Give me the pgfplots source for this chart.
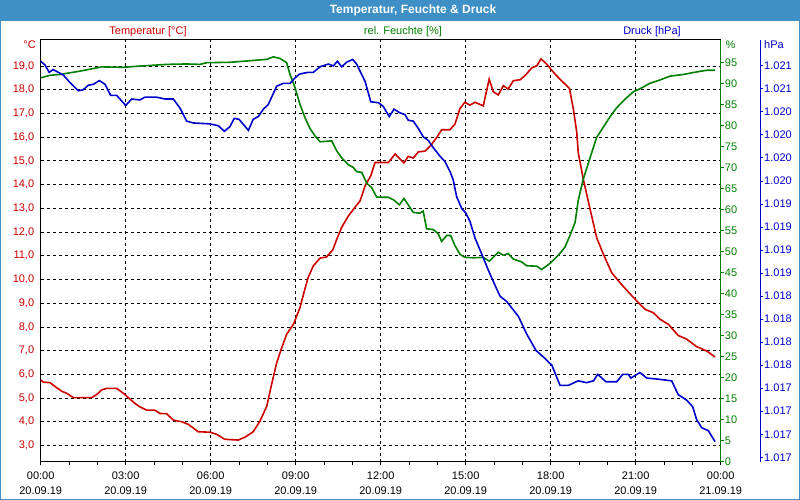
\documentclass[border=0pt]{standalone}
\usepackage{pgfplots}
\pgfplotsset{compat=1.18}
\usepackage{fontspec}
\setmainfont{Liberation Sans}
\definecolor{tblue}{RGB}{61,143,198}
\definecolor{cred}{RGB}{204,0,0}
\definecolor{cgreen}{RGB}{0,128,0}
\definecolor{cblue}{RGB}{0,0,204}
\pgfplotsset{
  base/.style={at={(40.7pt,38.3pt)}, anchor=south west, scale only axis,
    height=421.7pt, xmin=0, clip=true,
    /pgf/number format/assume math mode=true,
    every tick label/.append style={font=\fontsize{11}{14.5}\selectfont}},
}
\begin{document}
\begin{tikzpicture}[x=1pt,y=1pt,font=\fontsize{11}{13}\selectfont]
\fill[white] (0,0) rectangle (800,500);
\fill[tblue] (0,479) rectangle (800,500);
\draw[tblue,line width=1pt] (0.5,0.5) rectangle (799.5,499.5);
\node[white,font=\fontsize{12}{14}\selectfont\bfseries] at (413,490) {Temperatur, Feuchte \& Druck};
\node[cred] at (148,468) {Temperatur [°C]};
\node[cgreen] at (403,468) {rel. Feuchte [\%]};
\node[cblue] at (652,468) {Druck [hPa]};
\node[cred,anchor=east,inner sep=0pt] at (36,455) {°C};
\node[cgreen,anchor=west,inner sep=0pt] at (725.5,455) {\%};
\node[cblue,anchor=west,inner sep=0pt] at (764,455) {hPa};

% Temperature
\begin{axis}[base, width=680pt, xmax=24, ymin=2.317, ymax=20.096,
  xtick={0,3,...,24},
  xticklabels={{00:00\\20.09.19},{03:00\\20.09.19},{06:00\\20.09.19},{09:00\\20.09.19},{12:00\\20.09.19},{15:00\\20.09.19},{18:00\\20.09.19},{21:00\\20.09.19},{00:00\\21.09.19}},
  xticklabel style={align=center, text=black, yshift=-4pt},
  minor x tick num=2,
  xtick pos=left, ytick pos=left,
  tick align=outside, major tick length=3pt, minor tick length=3pt,
  ytick={3,...,19}, ytick style={draw=none},
  yticklabel style={text=cred, /pgf/number format/.cd, fixed, fixed zerofill, precision=1, use comma},
  grid=major, major grid style={black, line width=0.8pt, dash pattern=on 3pt off 3pt},
  axis line style={black, line width=1pt},
  tick style={black, line width=0.8pt},
]
\addplot[cred, line width=1.6pt] coordinates {
(0,5.76)(0.09,5.67)(0.33,5.65)(0.56,5.44)(0.74,5.29)(0.92,5.20)(1.15,5.02)(1.80,5.02)(1.98,5.15)(2.15,5.34)
(2.33,5.41)(2.68,5.41)(2.92,5.20)(3.09,5.02)(3.33,4.77)(3.50,4.63)(3.74,4.49)(4.03,4.49)(4.21,4.35)(4.45,4.34)
(4.68,4.07)(4.98,4.00)(5.21,3.89)(5.56,3.58)(5.98,3.56)(6.21,3.47)(6.50,3.26)(6.97,3.23)(7.21,3.35)(7.50,3.58)
(7.74,4.03)(7.98,4.66)(8.15,5.58)(8.33,6.49)(8.51,7.13)(8.68,7.69)(8.92,8.11)(9.15,8.81)(9.33,9.62)(9.44,10.08)
(9.62,10.57)(9.86,10.90)(10.09,10.95)(10.31,11.25)(10.45,11.70)(10.62,12.19)(10.86,12.68)(11.09,13.04)(11.27,13.31)(11.45,13.95)
(11.65,14.37)(11.80,14.93)(12.27,14.93)(12.51,15.29)(12.82,14.91)(12.97,15.19)(13.15,15.12)(13.33,15.38)(13.56,15.41)(13.74,15.61)
(13.98,15.99)(14.15,16.31)(14.44,16.31)(14.62,16.55)(14.80,17.21)(14.97,17.47)(15.15,17.35)(15.33,17.47)(15.62,17.32)(15.83,18.45)
(15.97,17.92)(16.15,17.78)(16.33,18.17)(16.50,18.03)(16.68,18.38)(16.92,18.42)(17.09,18.59)(17.33,18.92)(17.51,19.01)(17.66,19.30)
(17.86,19.08)(18.15,18.66)(18.44,18.31)(18.66,18.06)(18.80,17.18)(18.92,16.20)(18.97,15.36)(19.15,14.23)(19.39,12.96)(19.62,11.77)
(19.86,11.06)(20.15,10.29)(20.44,9.87)(20.74,9.47)(21.04,9.09)(21.33,8.74)(21.62,8.60)(21.86,8.32)(22.15,8.11)(22.50,7.64)
(22.80,7.48)(23.15,7.17)(23.51,6.98)(23.80,6.73)
};
\end{axis}

% Humidity
\begin{axis}[base, width=680pt, xmax=24, ymin=0, ymax=100.3,
  axis x line=none, axis y line*=right,
  y axis line style={cgreen, line width=1pt},
  ytick={0,5,...,95},
  tick align=outside, major tick length=3pt,
  ytick style={cgreen, line width=0.8pt},
  yticklabel style={text=cgreen, inner sep=1pt},
]
\addplot[cgreen, line width=1.6pt] coordinates {
(0,91.3)(0.33,91.9)(0.68,92.1)(1.39,92.9)(2.15,93.9)(2.92,93.8)(3.50,94.1)(4.45,94.5)(5.15,94.6)(5.62,94.5)
(5.86,94.9)(6.68,95.0)(7.27,95.3)(7.98,95.7)(8.21,96.3)(8.45,95.9)(8.68,94.9)(8.80,92.1)(8.98,88.9)(9.15,85.0)
(9.33,81.8)(9.50,79.3)(9.68,77.5)(9.86,76.1)(10.27,76.3)(10.45,73.9)(10.62,72.3)(10.86,70.6)(11.03,70.0)(11.15,69.0)
(11.33,68.8)(11.51,66.2)(11.68,65.2)(11.86,62.9)(12.27,62.9)(12.45,62.3)(12.66,61.1)(12.82,62.6)(12.97,61.1)(13.15,59.3)
(13.38,59.1)(13.50,59.6)(13.62,55.4)(13.86,55.2)(14.03,54.2)(14.15,52.4)(14.33,53.8)(14.47,53.8)(14.62,51.4)(14.80,49.3)
(14.97,48.6)(15.27,48.5)(15.62,48.6)(15.83,47.7)(16.15,49.8)(16.33,49.1)(16.50,49.5)(16.68,48.2)(16.98,47.5)(17.15,46.6)
(17.51,46.5)(17.68,45.7)(17.98,47.2)(18.27,49.1)(18.50,51.0)(18.68,53.8)(18.86,56.9)(18.97,62.1)(19.15,67.2)(19.39,72.3)
(19.62,77.1)(19.86,79.6)(20.09,82.0)(20.33,84.2)(20.62,86.2)(20.92,88.0)(21.21,88.9)(21.50,90.0)(21.86,90.8)(22.21,91.7)
(22.68,92.1)(23.15,92.7)(23.51,93.1)(23.80,93.1)
};
\end{axis}

% Pressure
\begin{axis}[base, width=719.3pt, xmax=25.387, ymin=1016.952, ymax=1021.531,
  axis x line=none, axis y line*=right,
  y axis line style={cblue, line width=1pt},
  ytick={1017,1017.25,...,1021.25},
  yticklabels={1.017,1.017,1.017,1.017,1.018,1.018,1.018,1.018,1.019,1.019,1.019,1.019,1.020,1.020,1.020,1.020,1.021,1.021},
  tick align=outside, major tick length=3pt,
  ytick style={cblue, line width=0.8pt},
  yticklabel style={text=cblue, inner sep=1pt},
]
\addplot[cblue, line width=1.6pt] coordinates {
(0,1021.30)(0.15,1021.26)(0.30,1021.18)(0.44,1021.21)(0.62,1021.18)(0.80,1021.15)(1.03,1021.07)(1.33,1020.98)(1.50,1020.99)(1.68,1021.04)
(1.86,1021.05)(2.07,1021.09)(2.27,1021.05)(2.47,1020.93)(2.68,1020.93)(3.00,1020.82)(3.21,1020.89)(3.50,1020.88)(3.68,1020.91)(4.09,1020.91)
(4.39,1020.89)(4.68,1020.89)(4.92,1020.79)(5.15,1020.65)(5.39,1020.63)(5.98,1020.62)(6.27,1020.60)(6.48,1020.54)(6.68,1020.59)(6.83,1020.68)
(7.00,1020.67)(7.33,1020.55)(7.50,1020.67)(7.68,1020.70)(7.86,1020.78)(8.03,1020.83)(8.33,1021.03)(8.56,1021.06)(8.80,1021.06)(8.98,1021.12)
(9.13,1021.16)(9.27,1021.17)(9.44,1021.18)(9.62,1021.18)(9.86,1021.24)(10.15,1021.27)(10.33,1021.25)(10.47,1021.30)(10.62,1021.24)(10.80,1021.29)
(11.01,1021.32)(11.15,1021.27)(11.45,1021.08)(11.65,1020.86)(11.92,1020.85)(12.09,1020.81)(12.30,1020.70)(12.47,1020.78)(12.68,1020.74)(12.86,1020.72)
(12.97,1020.66)(13.15,1020.65)(13.33,1020.57)(13.50,1020.48)(13.68,1020.44)(13.86,1020.36)(14.09,1020.27)(14.27,1020.21)(14.45,1020.10)(14.56,1020.01)
(14.68,1019.83)(14.86,1019.70)(15.01,1019.65)(15.15,1019.56)(15.33,1019.38)(15.56,1019.21)(15.80,1019.03)(16.09,1018.83)(16.21,1018.75)(16.45,1018.69)
(16.86,1018.53)(17.15,1018.34)(17.48,1018.16)(17.74,1018.09)(18.04,1018.00)(18.33,1017.78)(18.62,1017.78)(18.97,1017.83)(19.27,1017.81)(19.51,1017.83)
(19.66,1017.90)(19.95,1017.82)(20.33,1017.82)(20.54,1017.90)(20.74,1017.90)(20.83,1017.86)(21.15,1017.92)(21.39,1017.86)(21.74,1017.85)(22.27,1017.83)
(22.50,1017.68)(22.80,1017.62)(23.01,1017.55)(23.15,1017.41)(23.33,1017.32)(23.56,1017.29)(23.80,1017.17)
};
\end{axis}
\end{tikzpicture}
\end{document}
